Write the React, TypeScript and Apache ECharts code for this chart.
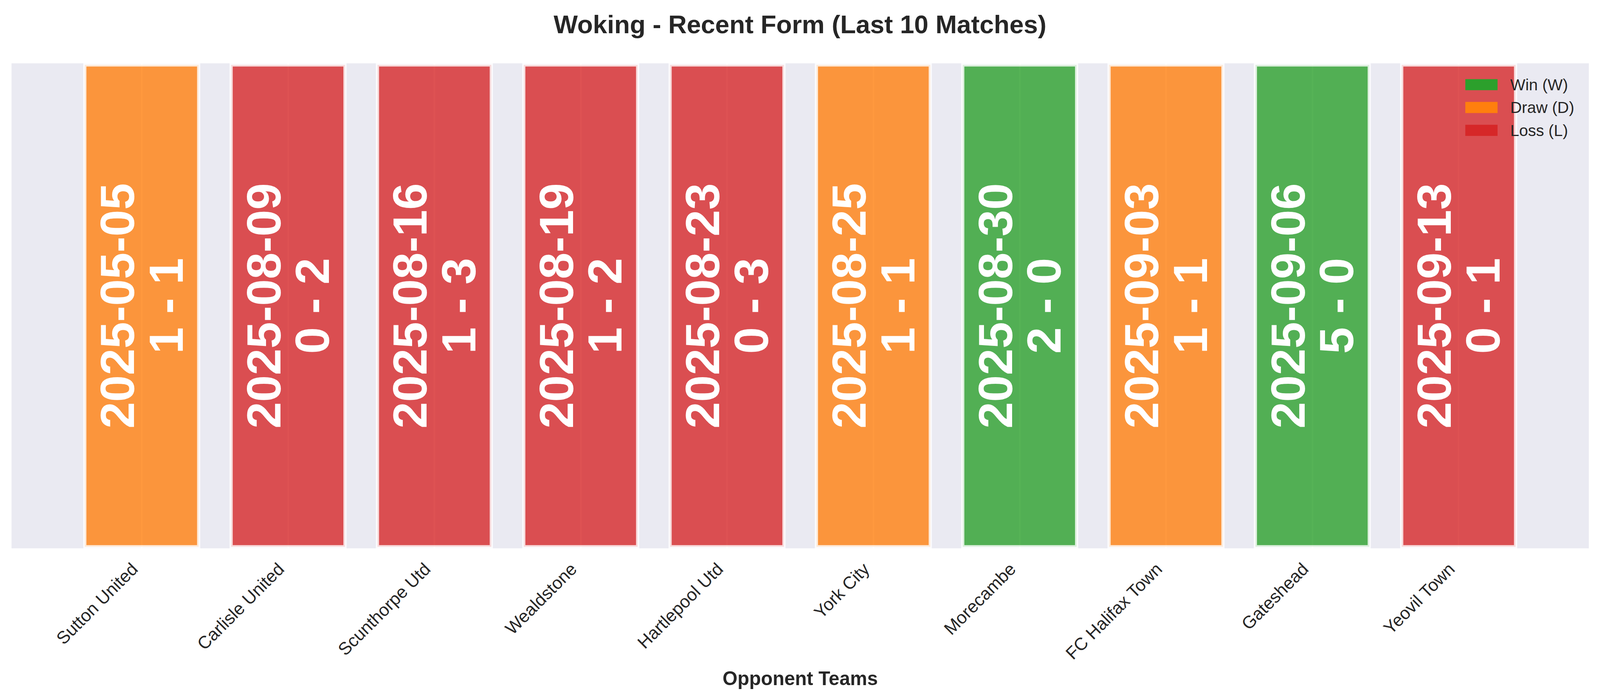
import React, { useEffect, useRef } from "react";
import * as echarts from "echarts";

// opponents, oldest match first
const TEAMS = [
    "Sutton United",
    "Carlisle United",
    "Scunthorpe Utd",
    "Wealdstone",
    "Hartlepool Utd",
    "York City",
    "Morecambe",
    "FC Halifax Town",
    "Gateshead",
    "Yeovil Town",
];
const DATES = [
    "2025-05-05",
    "2025-08-09",
    "2025-08-16",
    "2025-08-19",
    "2025-08-23",
    "2025-08-25",
    "2025-08-30",
    "2025-09-03",
    "2025-09-06",
    "2025-09-13",
];
const SCORES = ["1 - 1", "0 - 2", "1 - 3", "1 - 2", "0 - 3", "1 - 1", "2 - 0", "1 - 1", "5 - 0", "0 - 1"];
const RESULTS = ["D", "L", "L", "L", "L", "D", "W", "D", "W", "L"];

const RESULT_KEYS = ["W", "D", "L"];
const RESULT_NAMES: Record<string, string> = { W: "Win (W)", D: "Draw (D)", L: "Loss (L)" };
const RESULT_RGB: Record<string, [number, number, number]> = {
    W: [44, 160, 44],
    D: [255, 127, 14],
    L: [214, 39, 40],
};

const FONT = "'Liberation Sans', Arial, Helvetica, sans-serif";
const INK = "#262626";

const rgba = (k: string, a: number) => {
    const [r, g, b] = RESULT_RGB[k];
    return `rgba(${r},${g},${b},${a})`;
};

const App: React.FC = () => {
    const ref = useRef<HTMLDivElement | null>(null);

    useEffect(() => {
        const el = ref.current;
        if (!el) return;
        // layout was measured on a 4170x1768 canvas, scale to whatever we got
        const sx = el.clientWidth / 4170;
        const sy = el.clientHeight / 1768;
        const s = Math.min(sx, sy);
        const chart = echarts.init(el, undefined, { renderer: "svg" });
        const idx = TEAMS.map((_, i) => i);

        const series = RESULT_KEYS.map((k) => ({
            type: "bar" as const,
            name: RESULT_NAMES[k],
            barWidth: 305 * sx,
            barGap: "-100%",
            data: idx.filter((i) => RESULTS[i] === k).map((i) => ({ value: [i, 1], name: TEAMS[i] })),
            itemStyle: {
                color: rgba(k, 0.8),
                borderColor: "rgba(255,255,255,0.8)",
                borderWidth: 8.3 * s,
            },
            label: {
                show: true,
                position: "inside" as const,
                rotate: 90,
                formatter: (p: any) => `${DATES[p.value[0]]}\n${SCORES[p.value[0]]}`,
                color: "#ffffff",
                fontFamily: FONT,
                fontSize: 125 * s,
                fontWeight: "bold" as const,
                lineHeight: 127 * s,
                textBorderWidth: 0,
            },
            emphasis: { disabled: true },
        }));

        chart.setOption({
            animation: false,
            backgroundColor: "#ffffff",
            textStyle: { fontFamily: FONT },
            title: {
                text: "Woking - Recent Form (Last 10 Matches)",
                left: "center",
                top: 24 * sy,
                textStyle: { fontSize: 66.7 * s, fontWeight: "bold", color: INK, fontFamily: FONT },
            },
            legend: {
                orient: "vertical",
                left: 3819 * sx,
                top: 196 * sy,
                padding: 0,
                icon: "rect",
                itemWidth: 84 * s,
                itemHeight: 29 * s,
                itemGap: 17.5 * s,
                selectedMode: false,
                itemStyle: { borderWidth: 0 },
                textStyle: {
                    fontSize: 41.7 * s,
                    color: INK,
                    lineHeight: 42 * s,
                    padding: [0, 0, 0, 28 * s],
                    fontFamily: FONT,
                },
                data: RESULT_KEYS.map((k) => ({
                    name: RESULT_NAMES[k],
                    itemStyle: { color: rgba(k, 1), opacity: 1, borderWidth: 0 },
                })),
            },
            grid: {
                left: 30 * sx,
                right: 29 * sx,
                top: 162 * sy,
                bottom: 365 * sy,
                show: true,
                backgroundColor: "#EAEAF2",
                borderWidth: 0,
            },
            xAxis: {
                type: "value",
                min: -0.89,
                max: 9.89,
                axisLine: { show: false },
                axisTick: { show: false, customValues: idx },
                splitLine: { show: true, lineStyle: { color: "#ffffff", width: 4.2 * s } },
                axisLabel: {
                    customValues: idx,
                    formatter: (v: number) => TEAMS[Math.round(v)] ?? "",
                    rotate: 45,
                    fontSize: 45.8 * s,
                    color: INK,
                    margin: 27 * sy,
                    // right padding pulls the label end back like matplotlib's ha="right" box
                    padding: [0, 26 * s, 0, 0],
                    fontFamily: FONT,
                },
                name: "Opponent Teams",
                nameLocation: "middle",
                nameGap: 308 * sy,
                nameTextStyle: { fontSize: 50 * s, fontWeight: "bold", color: INK, fontFamily: FONT },
            },
            yAxis: { type: "value", min: 0, max: 1, show: false },
            series,
        });

        return () => chart.dispose();
    }, []);

    return (
        <div
            ref={ref}
            style={{ position: "fixed", left: 0, top: 0, width: "100vw", height: "100vh", background: "#fff" }}
        />
    );
};

export default App;
